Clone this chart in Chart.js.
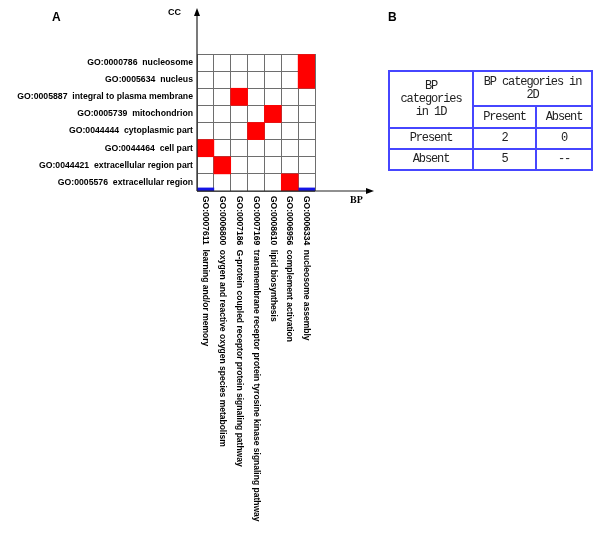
<!DOCTYPE html>
<html>
<head>
<meta charset="utf-8">
<script src="https://cdn.jsdelivr.net/npm/chart.js@4.4.1/dist/chart.umd.min.js"></script>
<style>
  html, body { margin: 0; padding: 0; background: #fff; }
  #wrap { position: relative; width: 600px; height: 537px; }
  #chart { position: absolute; left: 0; top: 0; }
  .lbl { position: absolute; font-weight: bold; color: #000; }
  #tbl {
    position: absolute; left: 388px; top: 70px;
    border-collapse: collapse; table-layout: fixed;
    font-family: "Liberation Mono", "DejaVu Sans Mono", monospace;
    font-size: 12px; letter-spacing: -1.1px; color: #222;
  }
  #tbl td { border: 2px solid #4646ff; text-align: center; padding: 0; line-height: 13px; }
</style>
</head>
<body>
<div id="wrap">
  <canvas id="chart" width="600" height="537"></canvas>
  <div class="lbl" style="left:52px;top:10px;font:bold 12px 'Liberation Sans',Arial;">A</div>
  <div class="lbl" style="left:168px;top:7px;font:bold 9px 'Liberation Sans',Arial;">CC</div>
  <div class="lbl" style="left:350px;top:194px;font:bold 10px 'Liberation Serif','Times New Roman';">BP</div>
  <div class="lbl" style="left:388px;top:10px;font:bold 12px 'Liberation Sans',Arial;">B</div>
  <table id="tbl">
    <colgroup><col style="width:84px"><col style="width:63px"><col style="width:56px"></colgroup>
    <tr style="height:35px">
      <td rowspan="2" id="corner"></td>
      <td colspan="2" id="topHead" style="vertical-align:middle"></td>
    </tr>
    <tr style="height:22px" id="subHead"></tr>
  </table>
</div>
<script>
// BP terms along the x axis (left to right)
const bpTerms = [
  'GO:0007611  learning and/or memory',
  'GO:0006800  oxygen and reactive oxygen species metabolism',
  'GO:0007186  G-protein coupled receptor protein signaling pathway',
  'GO:0007169  transmembrane receptor protein tyrosine kinase signaling pathway',
  'GO:0008610  lipid biosynthesis',
  'GO:0006956  complement activation',
  'GO:0006334  nucleosome assembly'
];

// CC terms along the y axis (top to bottom)
const ccTerms = [
  'GO:0000786  nucleosome',
  'GO:0005634  nucleus',
  'GO:0005887  integral to plasma membrane',
  'GO:0005739  mitochondrion',
  'GO:0044444  cytoplasmic part',
  'GO:0044464  cell part',
  'GO:0044421  extracellular region part',
  'GO:0005576  extracellular region'
];

// for each CC row, the BP column of its red cell
const redColumn = [6, 6, 2, 4, 3, 0, 1, 5];
// BP columns with a blue mark in the bottom row
const blueColumns = [0, 6];

// table B
const tableCorner = ['BP', 'categories', 'in 1D'];
const tableHead = ['BP categories in', '2D'];
const tableCols = ['Present', 'Absent'];
const tableRows = ['Present', 'Absent'];
const tableValues = [['2', '0'], ['5', '--']];

// build table B
document.getElementById('corner').innerHTML = tableCorner.join('<br>');
document.getElementById('topHead').innerHTML = tableHead.join('<br>');
const subHead = document.getElementById('subHead');
tableCols.forEach(c => {
  const td = document.createElement('td');
  td.textContent = c;
  subHead.appendChild(td);
});
const tbl = document.getElementById('tbl');
tableRows.forEach((r, i) => {
  const tr = document.createElement('tr');
  tr.style.height = '21px';
  [r].concat(tableValues[i]).forEach(v => {
    const td = document.createElement('td');
    td.textContent = v;
    tr.appendChild(td);
  });
  tbl.appendChild(tr);
});

const labelFont = { family: "'Liberation Sans', Arial", size: 8.7, weight: 'bold' };
const blueHeight = 0.18;

const redCells = redColumn.map((c, r) => ({ x: bpTerms[c], y: [r, r + 1] }));
const blueCells = blueColumns.map(c => ({ x: bpTerms[c], y: [ccTerms.length - blueHeight, ccTerms.length] }));

// x tick labels rotated clockwise, plus the two arrowed axes
const axesPlugin = {
  id: 'axesPlugin',
  afterDraw(chart) {
    const { ctx, chartArea, scales } = chart;
    const x = scales.x;
    ctx.save();
    ctx.fillStyle = '#000';
    ctx.font = 'bold 8.5px "Liberation Sans", Arial';
    ctx.textAlign = 'left';
    ctx.textBaseline = 'middle';
    bpTerms.forEach((t, i) => {
      ctx.save();
      ctx.translate(x.getPixelForValue(i), chartArea.bottom + 5);
      ctx.rotate(Math.PI / 2);
      ctx.fillText(t, 0, 0);
      ctx.restore();
    });

    const l = chartArea.left, b = chartArea.bottom;
    ctx.strokeStyle = '#222';
    ctx.lineWidth = 1.2;
    ctx.beginPath();
    ctx.moveTo(l, b);
    ctx.lineTo(l, 14);
    ctx.moveTo(l, b);
    ctx.lineTo(368, b);
    ctx.stroke();
    ctx.fillStyle = '#000';
    ctx.beginPath();
    ctx.moveTo(l, 8);
    ctx.lineTo(l - 3, 16);
    ctx.lineTo(l + 3, 16);
    ctx.closePath();
    ctx.fill();
    ctx.beginPath();
    ctx.moveTo(374, b);
    ctx.lineTo(366, b - 3);
    ctx.lineTo(366, b + 3);
    ctx.closePath();
    ctx.fill();
    ctx.restore();
  }
};

new Chart(document.getElementById('chart'), {
  type: 'bar',
  data: {
    labels: bpTerms,
    datasets: [
      {
        label: 'match',
        data: redCells,
        backgroundColor: '#ff0000',
        borderWidth: 0,
        yAxisID: 'y'
      },
      {
        label: 'mark',
        data: blueCells,
        backgroundColor: '#1414e6',
        borderWidth: 0,
        yAxisID: 'y'
      }
    ]
  },
  options: {
    responsive: false,
    animation: false,
    events: [],
    grouped: false,
    barPercentage: 1,
    categoryPercentage: 1,
    layout: { padding: { left: 17, right: 285, top: 54, bottom: 0 } },
    plugins: { legend: { display: false }, tooltip: { enabled: false } },
    scales: {
      x: {
        type: 'category',
        offset: true,
        z: 1,
        grid: { offset: true, color: '#6e6e6e', drawTicks: false },
        border: { display: false },
        ticks: { display: false },
        afterFit(s) { s.height = 346; }
      },
      y: {
        type: 'linear',
        min: 0,
        max: ccTerms.length,
        reverse: true,
        position: 'left',
        z: 1,
        grid: { color: '#6e6e6e', drawTicks: false },
        border: { display: false },
        ticks: { display: false, stepSize: 1 },
        afterFit(s) { s.width = 0; }
      },
      yl: {
        type: 'category',
        labels: ccTerms,
        offset: true,
        position: 'left',
        grid: { display: false, drawTicks: false },
        border: { display: false },
        ticks: { font: labelFont, color: '#000', padding: 4, autoSkip: false },
        afterFit(s) { s.width = 180; }
      }
    }
  },
  plugins: [axesPlugin]
});
</script>
</body>
</html>
